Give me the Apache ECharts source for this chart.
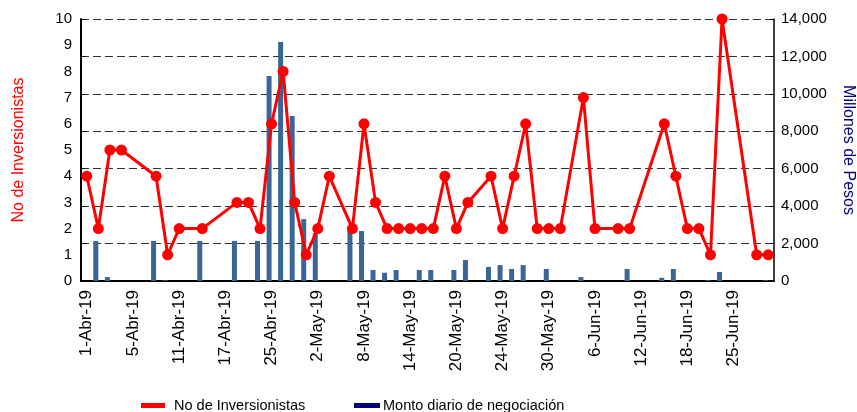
<!DOCTYPE html>
<html>
<head>
<meta charset="utf-8">
<script src="https://cdn.jsdelivr.net/npm/echarts@6/dist/echarts.min.js"></script>
<style>
	html, body { margin: 0; padding: 0; background: #fff; }
	#chart { width: 857px; height: 412px; }
</style>
</head>
<body>
<div id="chart"></div>
<script>
// dias de negociacion (abril - junio 2019)
var dias = [
	'1-Abr-19', '2-Abr-19', '3-Abr-19', '4-Abr-19', '5-Abr-19', '8-Abr-19', '9-Abr-19', '10-Abr-19', '11-Abr-19', '12-Abr-19',
	'15-Abr-19', '16-Abr-19', '17-Abr-19', '22-Abr-19', '23-Abr-19', '24-Abr-19', '25-Abr-19', '26-Abr-19', '29-Abr-19', '30-Abr-19',
	'2-May-19', '3-May-19', '6-May-19', '7-May-19', '8-May-19', '9-May-19', '10-May-19', '13-May-19', '14-May-19', '15-May-19',
	'16-May-19', '17-May-19', '20-May-19', '21-May-19', '22-May-19', '23-May-19', '24-May-19', '27-May-19', '28-May-19', '29-May-19',
	'30-May-19', '31-May-19', '4-Jun-19', '5-Jun-19', '6-Jun-19', '7-Jun-19', '10-Jun-19', '11-Jun-19', '12-Jun-19', '13-Jun-19',
	'14-Jun-19', '17-Jun-19', '18-Jun-19', '19-Jun-19', '20-Jun-19', '21-Jun-19', '25-Jun-19', '26-Jun-19', '27-Jun-19', '28-Jun-19'
];

var inversionistas = [
	4, 2, 5, 5, null, null, 4, 1, 2, null,
	2, null, null, 3, 3, 2, 6, 8, 3, 1,
	2, 4, null, 2, 6, 3, 2, 2, 2, 2,
	2, 4, 2, 3, null, 4, 2, 4, 6, 2,
	2, 2, null, 7, 2, null, 2, 2, null, null,
	6, 4, 2, 2, 1, 10, null, null, 1, 1
];

// millones de pesos
var monto = [
	null, 2140, 210, null, null, null, 2140, 40, null, null,
	2140, null, null, 2140, null, 2140, 10950, 12770, 8820, 3310,
	2550, null, null, 2750, 2670, 590, 440, 590, null, 590,
	590, null, 590, 1120, null, 750, 850, 640, 850, null,
	640, null, null, 210, null, null, null, 640, null, null,
	170, 640, null, null, 40, 480, null, null, null, 40
];

var chart = echarts.init(document.getElementById('chart'));

var fuente = 'Liberation Sans, Arial, sans-serif';

var option = {
	animation: false,
	textStyle: { fontFamily: fuente },
	grid: { left: 81, right: 83, top: 19, bottom: 131, outerBoundsMode: 'none' },
	legend: [
		{
			data: ['No de Inversionistas'],
			left: 136, top: 393,
			icon: 'rect', itemWidth: 24, itemHeight: 5,
			formatter: '{a|{name}}',
			textStyle: {
				fontSize: 14.5, color: '#000',
				rich: { a: { fontSize: 14.5, color: '#000', padding: [0, 0, 0, 4] } }
			}
		},
		{
			data: [{ name: 'Monto diario de negociación', itemStyle: { color: '#000080' } }],
			left: 349, top: 393,
			icon: 'rect', itemWidth: 26, itemHeight: 5,
			formatter: '{a|{name}}',
			textStyle: {
				fontSize: 14.5, color: '#000',
				rich: { a: { fontSize: 14.5, color: '#000', padding: [0, 0, 0, -2] } }
			}
		}
	],
	xAxis: {
		type: 'category',
		data: dias,
		axisLine: { lineStyle: { color: '#000', width: 2 } },
		axisTick: { show: false },
		axisLabel: { interval: 3, rotate: 90, fontSize: 17, color: '#000', margin: 9 }
	},
	yAxis: [
		{
			type: 'value',
			min: 0, max: 10, interval: 1,
			position: 'left',
			name: 'No de Inversionistas',
			nameLocation: 'middle',
			nameGap: 54,
			nameTextStyle: { color: '#ff0000', fontSize: 16 },
			axisLine: { show: true, lineStyle: { color: '#000', width: 2 } },
			axisTick: { show: false },
			axisLabel: { fontSize: 15, color: '#000', margin: 9 },
			splitLine: { show: false }
		},
		{
			type: 'value',
			min: 0, max: 14000, interval: 2000,
			position: 'right',
			name: 'Millones de Pesos',
			nameLocation: 'middle',
			nameRotate: -90,
			nameGap: 66,
			nameTextStyle: { color: '#000080', fontSize: 16 },
			axisLine: { show: true, lineStyle: { color: '#000', width: 1.5 } },
			axisTick: { show: true, inside: true, length: 4, lineStyle: { color: '#000' } },
			axisLabel: {
				fontSize: 15, color: '#000', margin: 7,
				formatter: function (v) { return v.toLocaleString('en-US'); }
			},
			splitLine: { show: true, lineStyle: { color: '#333', type: [8, 4], width: 1 } }
		},
		{
			// marcas del eje izquierdo a la altura de la rejilla
			type: 'value',
			min: 0, max: 14000, interval: 2000,
			position: 'left',
			axisLine: { show: false },
			axisTick: { show: true, inside: true, length: 4, lineStyle: { color: '#000' } },
			axisLabel: { show: false },
			splitLine: { show: false }
		}
	],
	series: [
		{
			name: 'Monto diario de negociación',
			type: 'bar',
			yAxisIndex: 1,
			data: monto,
			barWidth: 5,
			barGap: '0%',
			itemStyle: { color: '#3a6597' }
		},
		{
			// serie vacia, solo desplaza las barras como en el original
			name: 'vacio',
			type: 'bar',
			yAxisIndex: 1,
			data: [],
			barWidth: 5,
			barGap: '0%'
		},
		{
			name: 'No de Inversionistas',
			type: 'line',
			yAxisIndex: 0,
			data: inversionistas,
			connectNulls: true,
			showAllSymbol: true,
			symbol: 'circle',
			symbolSize: 11,
			lineStyle: { color: '#ff0000', width: 3 },
			itemStyle: { color: '#ff0000' }
		}
	]
};

chart.setOption(option);
</script>
</body>
</html>
